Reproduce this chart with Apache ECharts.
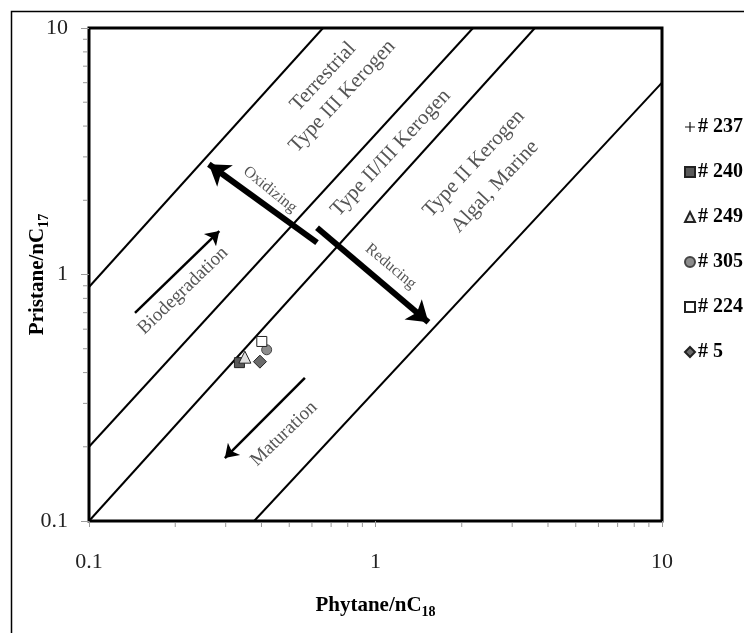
<!DOCTYPE html>
<html><head><meta charset="utf-8">
<script src="https://cdn.jsdelivr.net/npm/echarts@6/dist/echarts.min.js"></script>
<style>html,body{margin:0;padding:0;background:#fff}#c{width:744px;height:633px}</style>
</head><body><div id="c"></div>
<script>
// ---- data ----
const sampleNames = ['# 237', '# 240', '# 249', '# 305', '# 224', '# 5'];
const phytaneRatio = [0.333, 0.335, 0.350, 0.417, 0.401, 0.395];
const pristaneRatio = [0.440, 0.439, 0.462, 0.495, 0.535, 0.443];
const boundaryLines = [
  [[0.1, 0.89], [0.656, 10]],
  [[0.1, 0.2], [2.19, 10]],
  [[0.1, 0.1], [3.6, 10]],
  [[0.377, 0.1], [10, 6.0]]
];
const thickArrows = [
  [[0.625, 1.346], [0.262, 2.80]],
  [[0.625, 1.548], [1.53, 0.64]]
];
const thinArrows = [
  [[0.1447, 0.699], [0.285, 1.50]],
  [[0.567, 0.381], [0.298, 0.180]]
];
const zoneLabels = ['Terrestrial', 'Type III Kerogen', 'Type II/III Kerogen', 'Type II Kerogen', 'Algal, Marine'];
const zoneLabelX = [0.657, 0.766, 1.13, 2.207, 2.613];
const zoneLabelY = [6.34, 5.28, 3.11, 2.818, 2.271];
const trendLabels = ['Oxidizing', 'Reducing', 'Biodegradation', 'Maturation'];
const trendLabelX = [0.428, 1.13, 0.2129, 0.479];
const trendLabelY = [2.21, 1.078, 0.859, 0.2256];
const axisTickLabels = [0.1, 1, 10];
const minorTickValues = [0.2, 0.3, 0.4, 0.5, 0.6, 0.7, 0.8, 0.9, 2, 3, 4, 5, 6, 7, 8, 9];

// ---- styles ----
const FONT = '"Liberation Serif", "DejaVu Serif", serif';
const symbolStyles = [
  {symbol: 'path://M4.4 0H5.6V4.4H10V5.6H5.6V10H4.4V5.6H0V4.4H4.4Z', size: 10, color: '#111', border: '#111', bw: 0},
  {symbol: 'rect', size: 10, color: '#595959', border: '#222', bw: 1},
  {symbol: 'triangle', size: 12, color: '#e0e0e0', border: '#222', bw: 1},
  {symbol: 'circle', size: 10, color: '#8c8c8c', border: '#444', bw: 1},
  {symbol: 'rect', size: 10, color: '#ffffff', border: '#222', bw: 1},
  {symbol: 'diamond', size: 13, color: '#6a6a6a', border: '#222', bw: 1}
];
const zoneRot = [47, 47, 47, 47, 47];
const trendRot = [-39, -40, 44, 44];
const trendSize = [16, 16, 19, 19];

const chart = echarts.init(document.getElementById('c'));

const series = [];
boundaryLines.forEach(function (seg) {
  series.push({
    type: 'line', data: seg, showSymbol: false, silent: true,
    lineStyle: {color: '#000', width: 2}, z: 2
  });
});
series.push({
  type: 'lines', coordinateSystem: 'cartesian2d', silent: true, z: 4,
  symbol: ['none', 'arrow'], symbolSize: [0, 20],
  lineStyle: {color: '#000', width: 6, opacity: 1},
  data: thickArrows.map(function (c) { return {coords: c}; })
});
series.push({
  type: 'lines', coordinateSystem: 'cartesian2d', silent: true, z: 4,
  symbol: ['none', 'arrow'], symbolSize: [0, 13],
  lineStyle: {color: '#000', width: 2.5, opacity: 1},
  data: thinArrows.map(function (c) { return {coords: c}; })
});
series.push({
  type: 'scatter', silent: true, z: 3, symbolSize: 1,
  itemStyle: {color: 'rgba(0,0,0,0)'},
  label: {show: true, position: 'inside', fontFamily: FONT, fontSize: 21, color: '#2a2a2a', align: 'center', verticalAlign: 'middle'},
  data: zoneLabels.map(function (t, i) {
    return {value: [zoneLabelX[i], zoneLabelY[i]], label: {formatter: t, rotate: zoneRot[i]}};
  })
});
series.push({
  type: 'scatter', silent: true, z: 3, symbolSize: 1,
  itemStyle: {color: 'rgba(0,0,0,0)'},
  label: {show: true, position: 'inside', fontFamily: FONT, color: '#2a2a2a', align: 'center', verticalAlign: 'middle'},
  data: trendLabels.map(function (t, i) {
    return {value: [trendLabelX[i], trendLabelY[i]], label: {formatter: t, rotate: trendRot[i], fontSize: trendSize[i]}};
  })
});
series.push({
  type: 'custom', silent: true, clip: false, z: 1,
  data: minorTickValues.map(function (v) { return [v, v]; }),
  renderItem: function (params, api) {
    const v = api.value(0);
    const px = api.coord([v, 0.1]);
    const py = api.coord([0.1, v]);
    return {type: 'group', children: [
      {type: 'line', shape: {x1: px[0], y1: px[1] + 2, x2: px[0], y2: px[1] + 6}, style: {stroke: '#999', lineWidth: 1}},
      {type: 'line', shape: {x1: py[0] - 2, y1: py[1], x2: py[0] - 6, y2: py[1]}, style: {stroke: '#999', lineWidth: 1}}
    ]};
  }
});
sampleNames.forEach(function (name, i) {
  const s = symbolStyles[i];
  series.push({
    type: 'scatter', name: name, z: 6,
    data: [[phytaneRatio[i], pristaneRatio[i]]],
    symbol: s.symbol, symbolSize: s.size,
    itemStyle: {color: s.color, borderColor: s.border, borderWidth: s.bw, opacity: 1}
  });
});

chart.setOption({
  animation: false,
  backgroundColor: '#fff',
  graphic: [{
    type: 'rect', left: 9, top: 9, silent: true,
    shape: {width: 900, height: 800},
    style: {fill: 'none', stroke: '#000', lineWidth: 1.5}
  }],
  grid: {left: 89, top: 28, width: 573, height: 493, show: true, borderColor: '#000', borderWidth: 3, backgroundColor: 'transparent'},
  legend: {
    orient: 'vertical', left: 679, top: 112, itemGap: 25, itemWidth: 10, itemHeight: 10,
    data: sampleNames,
    textStyle: {fontFamily: FONT, fontWeight: 'bold', fontSize: 20, color: '#000', padding: [0, 0, 0, -2]}
  },
  xAxis: {
    type: 'log', logBase: 10, min: 0.1, max: 10,
    axisLine: {show: false},
    axisTick: {show: true, length: 6, lineStyle: {color: '#999'}},
    splitLine: {show: false},
    axisLabel: {fontFamily: FONT, fontSize: 22, color: '#222', margin: 30,
      formatter: function (v) { return axisTickLabels.indexOf(v) >= 0 ? String(v) : ''; }},
    name: '{n|Phytane/nC}{s|18}', nameLocation: 'middle', nameGap: 72, nameMoveOverlap: false,
    nameTextStyle: {rich: {
      n: {fontFamily: FONT, fontWeight: 'bold', fontSize: 21, color: '#000'},
      s: {fontFamily: FONT, fontWeight: 'bold', fontSize: 14, color: '#000', padding: [12, 0, 0, 0]}
    }}
  },
  yAxis: {
    type: 'log', logBase: 10, min: 0.1, max: 10,
    axisLine: {show: false},
    axisTick: {show: true, length: 8, lineStyle: {color: '#999'}},
    splitLine: {show: false},
    axisLabel: {fontFamily: FONT, fontSize: 22, color: '#222', margin: 21,
      formatter: function (v) { return axisTickLabels.indexOf(v) >= 0 ? String(v) : ''; }},
    name: '{n|Pristane/nC}{s|17}', nameLocation: 'middle', nameGap: 38, nameMoveOverlap: false,
    nameTextStyle: {rich: {
      n: {fontFamily: FONT, fontWeight: 'bold', fontSize: 21, color: '#000'},
      s: {fontFamily: FONT, fontWeight: 'bold', fontSize: 14, color: '#000', padding: [12, 0, 0, 0]}
    }}
  },
  series: series
});
</script>
</body></html>
